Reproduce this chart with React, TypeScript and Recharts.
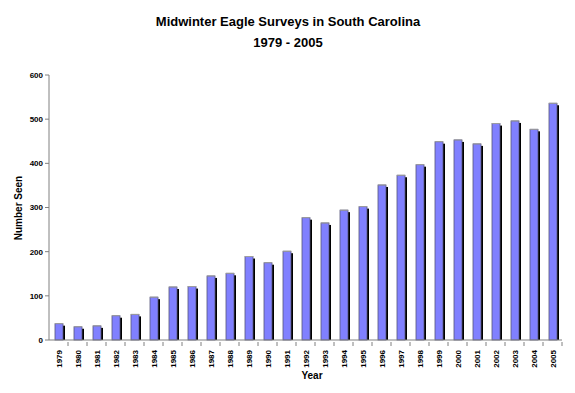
import React from "react";
import { BarChart, Bar, XAxis, YAxis } from "recharts";

const years = [
  "1979", "1980", "1981", "1982", "1983", "1984", "1985", "1986", "1987",
  "1988", "1989", "1990", "1991", "1992", "1993", "1994", "1995", "1996",
  "1997", "1998", "1999", "2000", "2001", "2002", "2003", "2004", "2005",
];
const counts = [
  37, 30, 32, 55, 58, 97, 120, 121, 145,
  151, 189, 175, 201, 277, 265, 294, 302, 351,
  373, 397, 449, 453, 444, 490, 496, 477, 536,
];
const yTicks = [0, 100, 200, 300, 400, 500, 600];

const data = years.map((year, i) => ({ year, seen: counts[i] }));

const FONT = "'Liberation Sans', Arial, sans-serif";
const W = 575;
const H = 393;
const LEFT = 49;
const RIGHT = 13;
const HALF_BAND = (W - LEFT - RIGHT) / years.length / 2;

// Excel-ish 3D bar: blue face, black side strip
function EagleBar(props: any) {
  const { x, y, width, height } = props;
  if (!height || height <= 0) return null;
  return (
    <g>
      <rect x={x + width} y={y + 2} width={2} height={height - 2} fill="#000" />
      <rect x={x} y={y} width={width} height={height} fill="#8080ff" stroke="#55557a" strokeWidth={0.8} />
      <line x1={x} y1={y} x2={x + width} y2={y} stroke="#a0a0a0" strokeWidth={1} />
    </g>
  );
}

function YearTick(props: any) {
  const { x, y, payload } = props;
  return (
    <g>
      <line x1={x + HALF_BAND} y1={y - 6} x2={x + HALF_BAND} y2={y - 2} stroke="#808080" />
      <text
        x={0}
        y={0}
        transform={`translate(${x + 3},${y + 2}) rotate(-90)`}
        textAnchor="end"
        fontFamily={FONT}
        fontSize={8}
        fontWeight="bold"
        fill="#000"
      >
        {payload.value}
      </text>
    </g>
  );
}

export default function App() {
  return (
    <div style={{ position: "fixed", left: 0, top: 0, width: W, height: H, background: "#fff" }}>
      <BarChart
        width={W}
        height={H}
        data={data}
        margin={{ top: 75, right: RIGHT, bottom: 0, left: 0 }}
        barCategoryGap={0}
      >
        <YAxis
          domain={[0, 600]}
          ticks={yTicks}
          width={LEFT}
          axisLine={{ stroke: "#808080" }}
          tickLine={{ stroke: "#808080" }}
          tickSize={4}
          tick={{ fontFamily: FONT, fontSize: 8, fontWeight: "bold", fill: "#000" }}
        />
        <XAxis
          dataKey="year"
          height={53}
          interval={0}
          axisLine={{ stroke: "#808080" }}
          tickLine={false}
          tick={<YearTick />}
        />
        <Bar dataKey="seen" barSize={8} shape={<EagleBar />} isAnimationActive={false} />
      </BarChart>
      <svg
        width={W}
        height={H}
        style={{ position: "absolute", left: 0, top: 0, pointerEvents: "none" }}
        fontFamily={FONT}
        fontWeight="bold"
      >
        <text x={288} y={26} textAnchor="middle" fontSize={13}>
          Midwinter Eagle Surveys in South Carolina
        </text>
        <text x={288} y={47} textAnchor="middle" fontSize={13}>
          1979 - 2005
        </text>
        <text x={312} y={379} textAnchor="middle" fontSize={10}>
          Year
        </text>
        <text transform="translate(22,208) rotate(-90)" textAnchor="middle" fontSize={10}>
          Number Seen
        </text>
      </svg>
    </div>
  );
}
